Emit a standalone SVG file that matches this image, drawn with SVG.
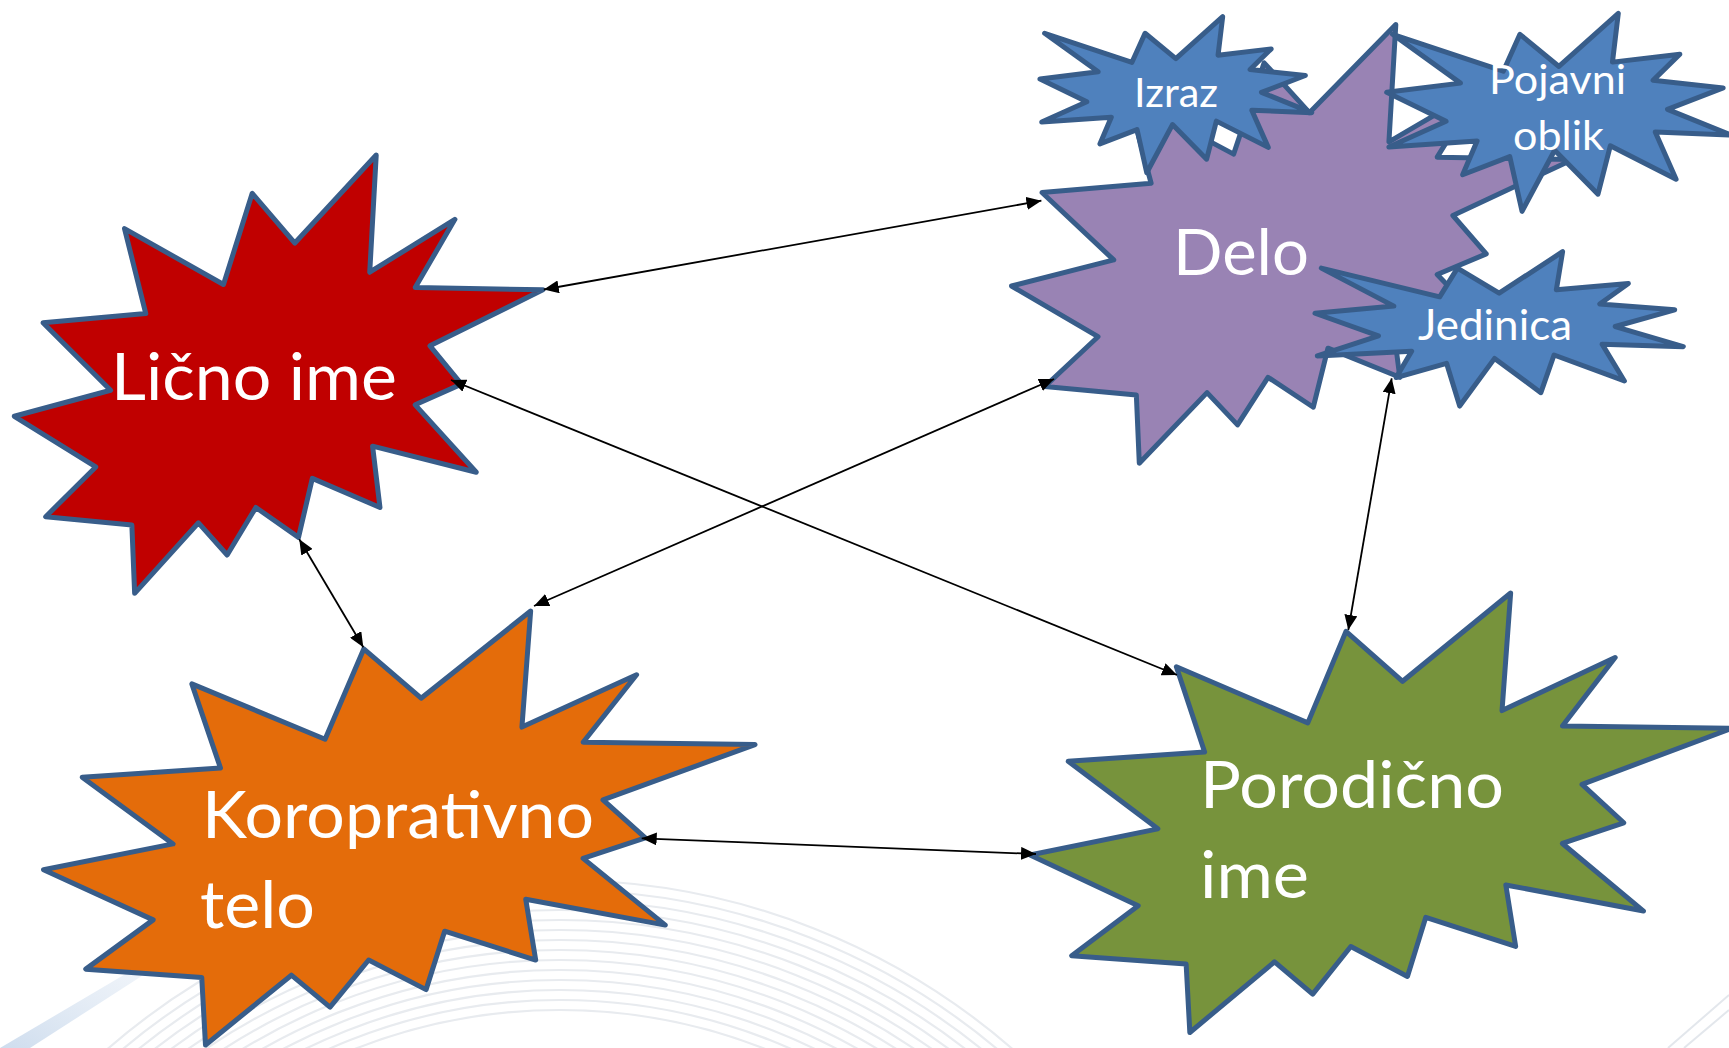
<svg xmlns="http://www.w3.org/2000/svg" xmlns:xlink="http://www.w3.org/1999/xlink" width="1729" height="1048" viewBox="0 0 1729 1048">
<style>
.seal{stroke:#385D8A;stroke-width:5;stroke-linejoin:round}
.lbl{font-family:Lato,"Open Sans","Liberation Sans",sans-serif;fill:#FFFFFF}
.big{font-size:65px}
.small{font-size:41px}
.conn{stroke:#000;stroke-width:1.8;fill:none;marker-start:url(#arr);marker-end:url(#arr)}
.arc{fill:none;stroke:#E8EBEF;stroke-width:2.2}
</style>
<defs>
<path id="seal2" vector-effect="non-scaling-stroke" d="M11464,4340 L9722,1887 L8548,6383 L4503,3626 L5373,7816 L1174,8270 L3934,11592 L0,12875 L3329,15372 L1283,17824 L4804,18239 L4918,21600 L7525,18125 L8698,19712 L9871,17371 L11614,18844 L12178,15937 L14943,17371 L14640,14348 L18878,15632 L16382,12311 L18270,11292 L16986,9404 L21600,6646 L16382,6533 L18005,3172 L14524,5778 L14789,0 Z"/>
<path id="seal1" vector-effect="non-scaling-stroke" d="M10800,5800 L14522,0 L14155,5325 L18380,4457 L16702,7315 L21097,8137 L17607,10475 L21600,13290 L16837,12942 L18145,18095 L14020,14457 L13247,19737 L10532,14935 L8485,21600 L7715,15627 L4762,17617 L5667,13937 L135,14587 L3722,11775 L0,8615 L4627,7617 L370,2295 L7312,6320 L8352,2295 Z"/>
<marker id="arr" markerUnits="userSpaceOnUse" viewBox="0 0 15 13" markerWidth="15" markerHeight="13" refX="15" refY="6.5" orient="auto-start-reverse">
<path d="M0,0 L15,6.5 L0,13 Z" fill="#000"/>
</marker>
<linearGradient id="sweep" x1="0" y1="1" x2="1" y2="0">
<stop offset="0" stop-color="#C9D9EC" stop-opacity="0.9"/>
<stop offset="1" stop-color="#E9EFF7" stop-opacity="0"/>
</linearGradient>
</defs>
<rect width="1729" height="1048" fill="#FFFFFF"/>
<g id="background">
<circle class="arc" cx="560" cy="1570" r="690"/>
<circle class="arc" cx="560" cy="1570" r="680"/>
<circle class="arc" cx="560" cy="1570" r="670"/>
<circle class="arc" cx="560" cy="1570" r="660"/>
<circle class="arc" cx="560" cy="1570" r="650"/>
<circle class="arc" cx="560" cy="1570" r="640"/>
<circle class="arc" cx="560" cy="1570" r="630"/>
<circle class="arc" cx="560" cy="1570" r="620"/>
<circle class="arc" cx="560" cy="1570" r="610"/>
<circle class="arc" cx="560" cy="1570" r="600"/>
<circle class="arc" cx="560" cy="1570" r="590"/>
<circle class="arc" cx="560" cy="1570" r="580"/>
<circle class="arc" cx="560" cy="1570" r="570"/>
<circle class="arc" cx="560" cy="1570" r="560"/>
<polygon points="0,1048 30,1048 260,900 200,930" fill="url(#sweep)"/>
<line x1="1729" y1="995" x2="1668" y2="1048" stroke="#E3E7EC" stroke-width="2"/>
<line x1="1729" y1="1010" x2="1684" y2="1048" stroke="#E3E7EC" stroke-width="2"/>
</g>
<g id="licno-ime">
<use href="#seal2" class="seal" fill="#C00000" transform="translate(14.3,155) scale(0.024472,0.020292)"/>
<text class="lbl big" x="111" y="400" textLength="286" lengthAdjust="spacingAndGlyphs">Lično ime</text>
</g>
<g id="korporativno-telo">
<use href="#seal2" class="seal" fill="#E46C0A" transform="translate(43.5,611) scale(0.032940,0.020093)"/>
<text class="lbl big" x="202" y="838.3" textLength="392" lengthAdjust="spacingAndGlyphs">Koroprativno</text>
<text class="lbl big" x="200" y="928.3" textLength="115" lengthAdjust="spacingAndGlyphs">telo</text>
</g>
<g id="porodicno-ime">
<use href="#seal2" class="seal" fill="#77933C" transform="translate(1030,593) scale(0.0325,0.020347)"/>
<text class="lbl big" x="1200" y="808.3" textLength="304" lengthAdjust="spacingAndGlyphs">Porodično</text>
<text class="lbl big" x="1200" y="898.3" textLength="109" lengthAdjust="spacingAndGlyphs">ime</text>
</g>
<g id="delo">
<use href="#seal2" class="seal" fill="#9983B4" transform="translate(1011.5,24.5) scale(0.025986,0.020310)"/>
<text class="lbl big" x="1173" y="275" textLength="136" lengthAdjust="spacingAndGlyphs" style="font-size:63px">Delo</text>
</g>
<g id="izraz">
<use href="#seal1" class="seal" fill="#4F81BD" transform="translate(1040,16.7) scale(0.012579,0.0072222)"/>
<text class="lbl small" x="1134" y="106.7" textLength="84" lengthAdjust="spacingAndGlyphs">Izraz</text>
</g>
<g id="pojavni-oblik">
<use href="#seal1" class="seal" fill="#4F81BD" transform="translate(1386.7,13.3) scale(0.015949,0.0091667)"/>
<text class="lbl small" x="1489" y="94.3" textLength="137" lengthAdjust="spacingAndGlyphs">Pojavni</text>
<text class="lbl small" x="1513" y="150" textLength="91" lengthAdjust="spacingAndGlyphs">oblik</text>
</g>
<g id="jedinica">
<use href="#seal1" class="seal" fill="#4F81BD" transform="translate(1315,251.7) scale(0.017051,0.0071435)"/>
<text class="lbl small" x="1418" y="340" textLength="154" lengthAdjust="spacingAndGlyphs" style="font-size:42px">Jedinica</text>
</g>
<g id="connectors">
<line class="conn" x1="543.8" y1="289.5" x2="1041.4" y2="200.7"/>
<line class="conn" x1="451" y1="380" x2="1177" y2="675"/>
<line class="conn" x1="299.3" y1="539.3" x2="363.3" y2="647.3"/>
<line class="conn" x1="1054" y1="379" x2="534" y2="606"/>
<line class="conn" x1="1391.7" y1="378.3" x2="1348.3" y2="630"/>
<line class="conn" x1="641.7" y1="838.3" x2="1036" y2="854"/>
</g>
</svg>
